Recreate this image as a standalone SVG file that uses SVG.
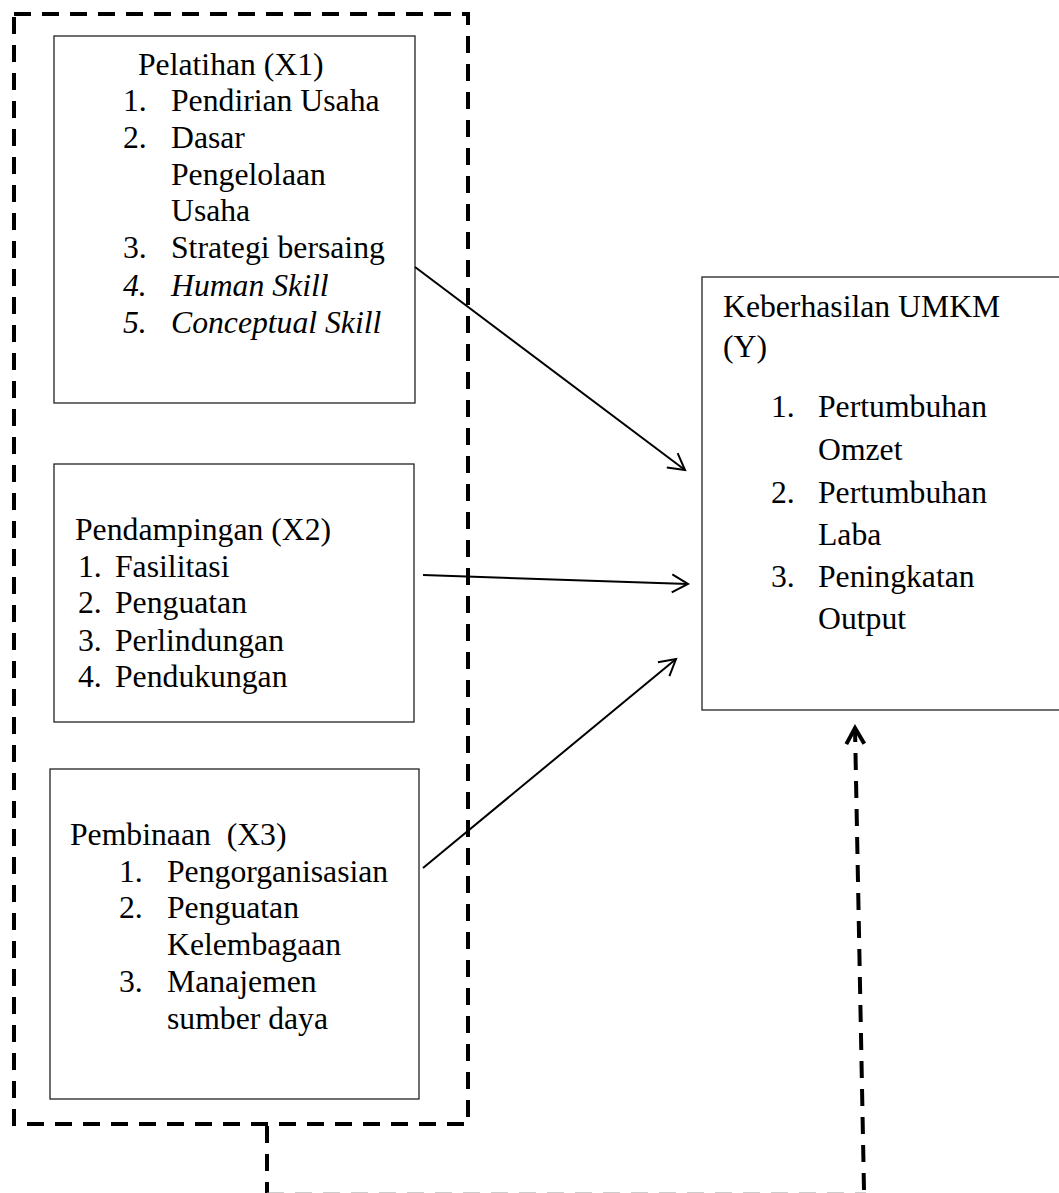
<svg xmlns="http://www.w3.org/2000/svg" width="1059" height="1193" viewBox="0 0 1059 1193">
<style>
.box{fill:#fff;stroke:#222;stroke-width:1.3}
.t{font-family:"Liberation Serif","Times New Roman",serif;font-size:31.7px;fill:#000;white-space:pre}
.i{font-style:italic}
.dash{fill:none;stroke:#000;stroke-width:4;stroke-dasharray:17 11}
.arr{stroke:#000;stroke-width:2;fill:none}
</style>
<defs>
<marker id="ah" markerUnits="userSpaceOnUse" markerWidth="40" markerHeight="40" viewBox="-20 -20 40 40" refX="0" refY="0" orient="auto">
<path d="M-16,-9 L0,0 L-16,9" fill="none" stroke="#000" stroke-width="2"/>
</marker>
<marker id="ahb" markerUnits="userSpaceOnUse" markerWidth="40" markerHeight="40" viewBox="-20 -20 40 40" refX="0" refY="0" orient="auto">
<path d="M-16,-9 L0,0 L-16,9" fill="none" stroke="#000" stroke-width="4"/>
</marker>
</defs>

<g id="group-x">
<rect class="dash" x="14" y="14" width="454" height="1110"/>
</g>

<g id="node-x1">
<rect class="box" x="54" y="36" width="361" height="367"/>
<text class="t" x="138" y="75">Pelatihan (X1)</text>
<text class="t" x="123" y="111">1.</text><text class="t" x="171" y="111">Pendirian Usaha</text>
<text class="t" x="123" y="148">2.</text><text class="t" x="171" y="148">Dasar</text>
<text class="t" x="171" y="185">Pengelolaan</text>
<text class="t" x="171" y="221">Usaha</text>
<text class="t" x="123" y="258">3.</text><text class="t" x="171" y="258">Strategi bersaing</text>
<text class="t i" x="123" y="296">4.</text><text class="t i" x="171" y="296">Human Skill</text>
<text class="t i" x="123" y="333">5.</text><text class="t i" x="171" y="333">Conceptual Skill</text>
</g>

<g id="node-x2">
<rect class="box" x="54" y="464" width="360" height="258"/>
<text class="t" x="75" y="540">Pendampingan (X2)</text>
<text class="t" x="78" y="577">1.</text><text class="t" x="115" y="577">Fasilitasi</text>
<text class="t" x="78" y="613">2.</text><text class="t" x="115" y="613">Penguatan</text>
<text class="t" x="78" y="651">3.</text><text class="t" x="115" y="651">Perlindungan</text>
<text class="t" x="78" y="687">4.</text><text class="t" x="115" y="687">Pendukungan</text>
</g>

<g id="node-x3">
<rect class="box" x="50" y="769" width="369" height="330"/>
<text class="t" x="70" y="845">Pembinaan  (X3)</text>
<text class="t" x="119" y="882">1.</text><text class="t" x="167" y="882">Pengorganisasian</text>
<text class="t" x="119" y="918">2.</text><text class="t" x="167" y="918">Penguatan</text>
<text class="t" x="167" y="955">Kelembagaan</text>
<text class="t" x="119" y="992">3.</text><text class="t" x="167" y="992">Manajemen</text>
<text class="t" x="167" y="1029">sumber daya</text>
</g>

<g id="node-y">
<rect class="box" x="702" y="277" width="362" height="433"/>
<text class="t" x="723" y="317">Keberhasilan UMKM</text>
<text class="t" x="723" y="357">(Y)</text>
<text class="t" x="771" y="417">1.</text><text class="t" x="818" y="417">Pertumbuhan</text>
<text class="t" x="818" y="460">Omzet</text>
<text class="t" x="771" y="503">2.</text><text class="t" x="818" y="503">Pertumbuhan</text>
<text class="t" x="818" y="545">Laba</text>
<text class="t" x="771" y="587">3.</text><text class="t" x="818" y="587">Peningkatan</text>
<text class="t" x="818" y="629">Output</text>
</g>

<g id="connectors">
<line class="arr" x1="415" y1="267" x2="685" y2="470" marker-end="url(#ah)"/>
<line class="arr" x1="423" y1="575" x2="688" y2="584" marker-end="url(#ah)"/>
<line class="arr" x1="423" y1="868" x2="676" y2="659" marker-end="url(#ah)"/>
<line class="dash" x1="267" y1="1126" x2="267" y2="1193"/>
<line x1="267" y1="1193.5" x2="866" y2="1193.5" stroke="#999" stroke-width="2" stroke-dasharray="17 11"/>
<line class="dash" x1="864" y1="1190" x2="855" y2="728" stroke-dasharray="18 10" marker-end="url(#ahb)"/>
</g>
</svg>
